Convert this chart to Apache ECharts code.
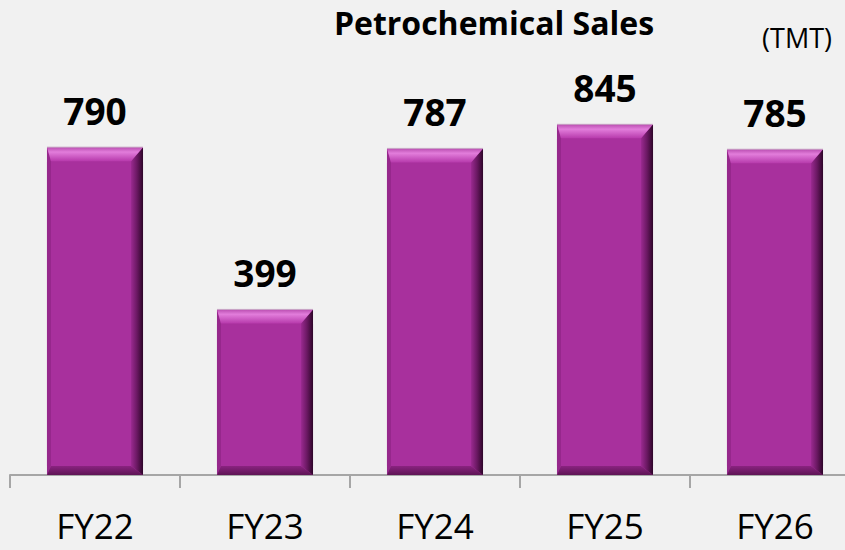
<!DOCTYPE html>
<html>
<head>
<meta charset="utf-8">
<script src="https://cdn.jsdelivr.net/npm/echarts@6/dist/echarts.min.js"></script>
<style>
html,body{margin:0;padding:0;background:#f1f1f1;overflow:hidden;}
#main{width:860px;height:550px;}
</style>
</head>
<body>
<div id="main"></div>
<script>
const categories = ['FY22', 'FY23', 'FY24', 'FY25', 'FY26'];
const salesValues = [790, 399, 787, 845, 785];
const chartTitle = 'Petrochemical Sales';
const unitText = '(TMT)';

const FONT = '"Open Sans", sans-serif';
const BAR_RATIO = 0.565;

const chart = echarts.init(document.getElementById('main'), null, {renderer: 'svg'});

const bevelData = salesValues.map((v, i) => [i, v]);

function renderBevel(params, api) {
  const top = api.coord([api.value(0), api.value(1)]);
  const base = api.coord([api.value(0), 0]);
  const w = api.size([1, 0])[0] * BAR_RATIO;
  const l = top[0] - w / 2, r = top[0] + w / 2, t = top[1], b = base[1];
  const bt = 14, br = 12, bb = 9, bl = 4;
  return {
    type: 'group',
    children: [
      {type: 'polygon', shape: {points: [[l, t], [l + bl, t + bt], [l + bl, b - bb], [l, b]]},
       style: {fill: '#96288c'}},
      {type: 'polygon', shape: {points: [[l, b], [r, b], [r - br, b - bb], [l + bl, b - bb]]},
       style: {fill: new echarts.graphic.LinearGradient(0, 0, 0, 1, [
         {offset: 0, color: '#8a2380'}, {offset: 1, color: '#5e1455'}])}},
      {type: 'polygon', shape: {points: [[r, t], [r, b], [r - br, b - bb], [r - br, t + bt]]},
       style: {fill: new echarts.graphic.LinearGradient(0, 0, 1, 0, [
         {offset: 0, color: '#9a2a90'}, {offset: 0.5, color: '#6a1862'}, {offset: 1, color: '#2e0629'}])}},
      {type: 'polygon', shape: {points: [[l, t], [r, t], [r - br, t + bt], [l + bl, t + bt]]},
       style: {fill: new echarts.graphic.LinearGradient(0, 0, 0, 1, [
         {offset: 0, color: '#b94db0'}, {offset: 0.35, color: '#e27ddb'}, {offset: 1, color: '#b73aac'}])}},
      {type: 'line', shape: {x1: l, y1: t, x2: r, y2: t},
       style: {stroke: '#c9a9c6', lineWidth: 1}}
    ]
  };
}

chart.setOption({
  backgroundColor: '#f1f1f1',
  animation: false,
  title: [
    {text: chartTitle, left: 489, top: 1, textAlign: 'center',
     textStyle: {fontFamily: FONT, fontSize: 32, fontWeight: 'bold', color: '#000'}},
    {text: unitText, right: 23, top: 19,
     textStyle: {fontFamily: FONT, fontSize: 27, fontWeight: 'normal', color: '#000'}}
  ],
  grid: {left: 10, top: 60, width: 850, height: 415, containLabel: false},
  xAxis: {
    type: 'category',
    data: categories,
    axisLine: {lineStyle: {color: '#a6a6a6', width: 2}},
    axisTick: {show: true, length: 13, lineStyle: {color: '#a6a6a6', width: 2}},
    axisLabel: {fontFamily: FONT, fontSize: 35, color: '#000', margin: 33}
  },
  yAxis: {type: 'value', min: 0, max: 1000, show: false, splitLine: {show: false}},
  series: [
    {
      type: 'bar',
      data: salesValues,
      barWidth: (BAR_RATIO * 100) + '%',
      itemStyle: {color: '#a8309d'},
      label: {show: true, position: 'top', distance: 18,
        fontFamily: FONT, fontSize: 37, fontWeight: 'bold', color: '#000'}
    },
    {
      type: 'custom',
      data: bevelData,
      encode: {x: 0, y: 1},
      renderItem: renderBevel,
      z: 3
    }
  ]
});
</script>
</body>
</html>
